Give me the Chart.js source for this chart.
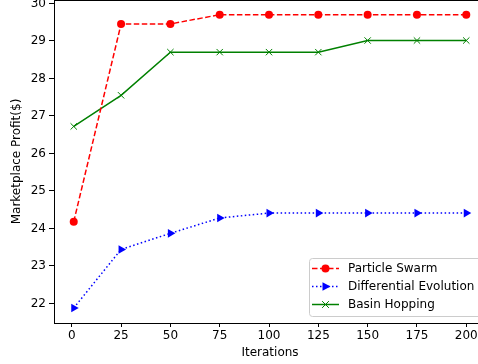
<!DOCTYPE html>
<html><head><meta charset="utf-8">
<script src="https://cdn.jsdelivr.net/npm/chart.js@4.4.0/dist/chart.umd.min.js"></script>
<style>html,body{margin:0;padding:0;overflow:hidden;background:#fff;width:478px;height:364px}canvas{display:block}</style>
</head><body>
<canvas id="c" width="486" height="364"></canvas>
<script>
const iterations = [1, 25, 50, 75, 100, 125, 150, 175, 200];
const particleSwarm = [24.18, 29.45, 29.45, 29.70, 29.70, 29.70, 29.70, 29.70, 29.70];
const differentialEvolution = [21.88, 23.44, 23.87, 24.28, 24.41, 24.41, 24.41, 24.41, 24.41];
const basinHopping = [26.72, 27.55, 28.70, 28.70, 28.70, 28.70, 29.01, 29.01, 29.01];
const xTicks = [0, 25, 50, 75, 100, 125, 150, 175, 200];
const yTicks = [22, 23, 24, 25, 26, 27, 28, 29, 30];
const seriesNames = ['Particle Swarm', 'Differential Evolution', 'Basin Hopping'];

const FONT = 'DejaVu Sans';
const FS = 12;
const toPts = ys => iterations.map((x, i) => ({x, y: ys[i]}));

const legendPlugin = {
  id: 'mplLegend',
  afterDraw(chart) {
    const ctx = chart.ctx;
    const ca = chart.chartArea;
    ctx.save();
    ctx.strokeStyle = '#000'; ctx.lineWidth = 1;
    ctx.beginPath(); ctx.moveTo(ca.left, ca.top + 0.5); ctx.lineTo(ca.right, ca.top + 0.5); ctx.stroke();
    ctx.beginPath(); ctx.moveTo(ca.right - 0.5, ca.top); ctx.lineTo(ca.right - 0.5, ca.bottom); ctx.stroke();
    const bx = 309.5, by = 258.5, bw = 172, bh = 58, r = 3;
    ctx.fillStyle = 'rgba(255,255,255,0.8)';
    ctx.strokeStyle = '#cccccc';
    ctx.beginPath();
    ctx.moveTo(bx + r, by); ctx.lineTo(bx + bw - r, by); ctx.arcTo(bx + bw, by, bx + bw, by + r, r);
    ctx.lineTo(bx + bw, by + bh - r); ctx.arcTo(bx + bw, by + bh, bx + bw - r, by + bh, r);
    ctx.lineTo(bx + r, by + bh); ctx.arcTo(bx, by + bh, bx, by + bh - r, r);
    ctx.lineTo(bx, by + r); ctx.arcTo(bx, by, bx + r, by, r);
    ctx.closePath(); ctx.fill(); ctx.stroke();
    const rows = [268.5, 286.5, 304.5];
    chart.data.datasets.forEach((ds, i) => {
      const y = rows[i];
      ctx.save();
      ctx.strokeStyle = ds.borderColor; ctx.lineWidth = ds.borderWidth;
      ctx.setLineDash(ds.borderDash || []);
      ctx.beginPath(); ctx.moveTo(312, y); ctx.lineTo(339, y); ctx.stroke();
      ctx.restore();
      drawMarker(ctx, ds, 325.5, y);
      ctx.fillStyle = '#000';
      ctx.font = FS + 'px ' + FONT;
      ctx.textBaseline = 'middle'; ctx.textAlign = 'left';
      ctx.fillText(ds.label, 348, y + 0.5);
    });
    ctx.restore();
  }
};

function drawMarker(ctx, ds, x, y) {
  ctx.save();
  ctx.fillStyle = ds.pointBackgroundColor; ctx.strokeStyle = ds.pointBorderColor;
  ctx.lineWidth = 1;
  const rr = ds.pointRadius;
  if (ds.pointStyle === 'circle') {
    ctx.beginPath(); ctx.arc(x, y, rr, 0, Math.PI * 2); ctx.fill();
  } else if (ds.pointStyle === 'triangle') {
    ctx.beginPath(); ctx.moveTo(x + rr, y); ctx.lineTo(x - rr * 0.6, y - rr * 0.85); ctx.lineTo(x - rr * 0.6, y + rr * 0.85); ctx.closePath(); ctx.fill();
  } else {
    const d = rr * 0.75;
    ctx.beginPath(); ctx.moveTo(x - d, y - d); ctx.lineTo(x + d, y + d); ctx.moveTo(x + d, y - d); ctx.lineTo(x - d, y + d); ctx.stroke();
  }
  ctx.restore();
}

const fixScale = (w, h) => (scale) => {
  if (w !== null) scale.width = w;
  if (h !== null) scale.height = h;
  scale.paddingTop = 0; scale.paddingBottom = 0; scale.paddingLeft = 0; scale.paddingRight = 0;
};

new Chart(document.getElementById('c'), {
  type: 'line',
  data: {
    datasets: [
      { label: seriesNames[0], data: toPts(particleSwarm), borderColor: '#ff0000', backgroundColor: '#ff0000',
        pointBackgroundColor: '#ff0000', pointBorderColor: '#ff0000', borderWidth: 1.5, borderDash: [5.5, 2.5],
        pointStyle: 'circle', pointRadius: 4, pointBorderWidth: 0, tension: 0 },
      { label: seriesNames[1], data: toPts(differentialEvolution), borderColor: '#0000ff', backgroundColor: '#0000ff',
        pointBackgroundColor: '#0000ff', pointBorderColor: '#0000ff', borderWidth: 1.5, borderDash: [1.5, 2.5],
        pointStyle: 'triangle', pointRotation: 90, pointRadius: 5, pointBorderWidth: 0, tension: 0 },
      { label: seriesNames[2], data: toPts(basinHopping), borderColor: '#008000', backgroundColor: '#008000',
        pointBackgroundColor: '#008000', pointBorderColor: '#008000', borderWidth: 1.5,
        pointStyle: 'crossRot', pointRadius: 4.5, pointBorderWidth: 1, tension: 0 }
    ]
  },
  options: {
    responsive: false, animation: false, devicePixelRatio: 1,
    layout: { autoPadding: false, padding: { top: 0, right: 0, left: 0, bottom: 0 } },
    plugins: { legend: { display: false }, tooltip: { enabled: false } },
    scales: {
      x: {
        type: 'linear', min: -9, max: 210,
        afterBuildTicks: s => { s.ticks = xTicks.map(v => ({ value: v })); },
        afterFit: fixScale(null, 41),
        grid: { display: true, drawOnChartArea: false, drawTicks: true, tickLength: 4, color: '#000' },
        border: { display: true, color: '#000', width: 1 },
        ticks: { color: '#000', font: { family: FONT, size: FS }, padding: 2, maxRotation: 0, autoSkip: false },
        title: { display: true, text: 'Iterations', color: '#000', font: { family: FONT, size: FS }, padding: { top: 0, bottom: 4 } }
      },
      y: {
        type: 'linear', min: 21.48, max: 30.09,
        afterBuildTicks: s => { s.ticks = yTicks.map(v => ({ value: v })); },
        afterFit: fixScale(54, null),
        grid: { display: true, drawOnChartArea: false, drawTicks: true, tickLength: 5, color: '#000' },
        border: { display: true, color: '#000', width: 1 },
        ticks: { color: '#000', font: { family: FONT, size: FS }, padding: 3 },
        title: { display: true, text: 'Marketplace Profit($)', color: '#000', font: { family: FONT, size: FS }, padding: { top: 10, bottom: 0 } }
      }
    }
  },
  plugins: [legendPlugin]
});
</script>
</body></html>
